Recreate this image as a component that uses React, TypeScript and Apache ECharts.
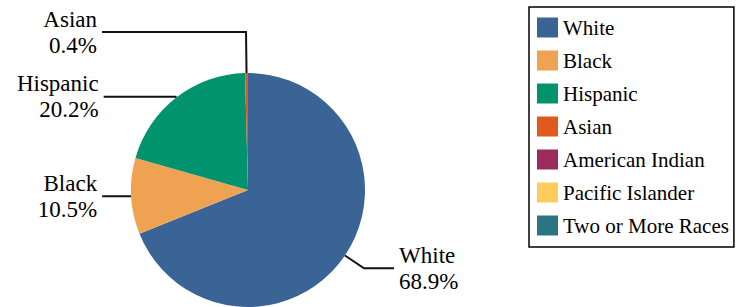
import React, { useEffect, useRef } from "react";
import * as echarts from "echarts";

const categories = [
  "White",
  "Black",
  "Hispanic",
  "Asian",
  "American Indian",
  "Pacific Islander",
  "Two or More Races",
];
const shares = [68.9, 10.5, 20.2, 0.4, 0, 0, 0];
const colors = [
  "#3A6396",
  "#EEA252",
  "#00936E",
  "#E05A1E",
  "#9B2A5F",
  "#FFCC5C",
  "#2A7584",
];
// leader line [length, length2] per slice (style only)
const leaderLines = [
  [23, 30],
  [2, 27],
  [1, 72],
  [41, 144],
  [0, 0],
  [0, 0],
  [0, 0],
];

const FONT = "Liberation Serif, Times New Roman, serif";

export default function App() {
  const ref = useRef<HTMLDivElement>(null);
  useEffect(() => {
    if (!ref.current) return;
    const chart = echarts.init(ref.current, undefined, { renderer: "svg" });
    const data = categories.map((name, i) => {
      const v = shares[i];
      const visible = v > 0;
      return {
        name,
        value: v,
        itemStyle: { color: colors[i] },
        label: { show: visible },
        labelLine: {
          show: visible,
          length: leaderLines[i][0],
          length2: leaderLines[i][1],
        },
      };
    });
    chart.setOption({
      animation: false,
      backgroundColor: "#ffffff",
      textStyle: { fontFamily: FONT },
      legend: {
        orient: "vertical",
        left: 529,
        top: 7,
        data: categories,
        icon: "rect",
        itemWidth: 21,
        itemHeight: 20,
        itemGap: 12,
        padding: [10, 5, 11, 8],
        borderColor: "#000",
        borderWidth: 1.5,
        textStyle: { fontFamily: FONT, fontSize: 21, color: "#000" },
        selectedMode: false,
      },
      series: [
        {
          type: "pie",
          center: [248, 190],
          radius: 117,
          startAngle: 90,
          clockwise: true,
          avoidLabelOverlap: false,
          silent: true,
          label: {
            show: true,
            position: "outside",
            fontFamily: FONT,
            fontSize: 23,
            lineHeight: 26,
            color: "#000",
            distanceToLabelLine: 5,
            formatter: (p: any) => `${p.name}\n${Number(p.value).toFixed(1)}%`,
          },
          labelLine: {
            show: true,
            lineStyle: { color: "#111", width: 2 },
          },
          itemStyle: { borderWidth: 0 },
          data,
        },
      ],
    });
    return () => chart.dispose();
  }, []);
  return (
    <div
      ref={ref}
      style={{ position: "fixed", left: 0, top: 0, width: 736, height: 307 }}
    />
  );
}
